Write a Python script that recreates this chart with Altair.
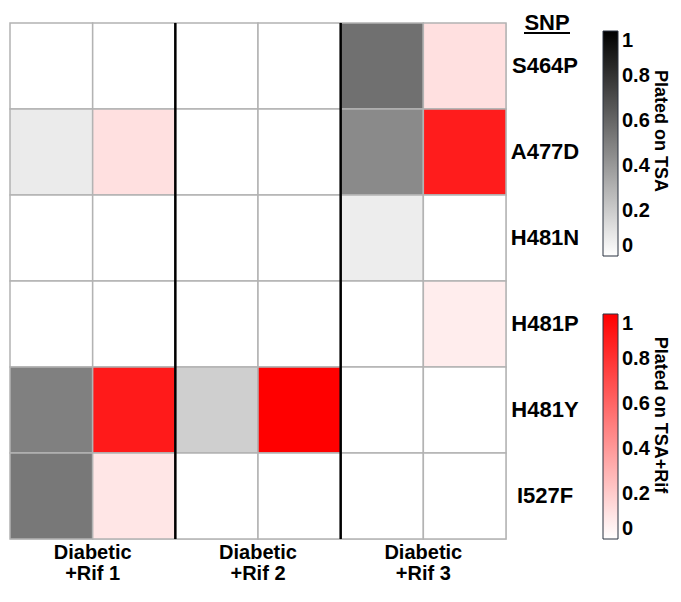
import altair as alt
import pandas as pd

FONT = "Liberation Sans"

# ---- data ----
snps = ["S464P", "A477D", "H481N", "H481P", "H481Y", "I527F"]
groups = ["Diabetic\n+Rif 1", "Diabetic\n+Rif 2", "Diabetic\n+Rif 3"]
# fraction plated on TSA (per group, per SNP in order above)
tsa_values = [
    [0.00, 0.08, 0.00, 0.00, 0.50, 0.53],
    [0.00, 0.00, 0.00, 0.00, 0.19, 0.00],
    [0.56, 0.46, 0.07, 0.00, 0.00, 0.00],
]
# fraction plated on TSA+Rif
rif_values = [
    [0.00, 0.12, 0.00, 0.00, 0.90, 0.10],
    [0.00, 0.00, 0.00, 0.00, 1.00, 0.00],
    [0.12, 0.89, 0.00, 0.07, 0.00, 0.00],
]
legend_ticks = [0, 0.2, 0.4, 0.6, 0.8, 1]
legend_titles = ["Plated on TSA", "Plated on TSA+Rif"]
header = "SNP"

rows_tsa, rows_rif = [], []
for g, (tv, rv) in enumerate(zip(tsa_values, rif_values)):
    for s, a, b in zip(snps, tv, rv):
        rows_tsa.append({"snp": s, "x0": 2 * g, "x1": 2 * g + 1, "value": a})
        rows_rif.append({"snp": s, "x0": 2 * g + 1, "x1": 2 * g + 2, "value": b})
df_tsa = pd.DataFrame(rows_tsa)
df_rif = pd.DataFrame(rows_rif)
df_groups = pd.DataFrame({"label": groups, "center": [2 * i + 1 for i in range(len(groups))]})
df_seps = pd.DataFrame({"x": [2 * i for i in range(1, len(groups))]})
df_snps = pd.DataFrame({"snp": snps})

W, H = 496, 516
TOP = 15  # padding above plot area; plot origin at page y = 8 + TOP

xscale = alt.Scale(domain=[0, 6], nice=False, zero=False)
yenc = alt.Y("snp:N", sort=snps, axis=None, scale=alt.Scale(paddingInner=0, paddingOuter=0))


def legend(y):
    return alt.Legend(
        title=None, orient="none", legendX=593, legendY=y, direction="vertical",
        gradientLength=225, gradientThickness=15, values=legend_ticks, format="~g",
        labelFontSize=20, labelFont=FONT, labelFontWeight="bold", labelColor="black",
        labelBaseline="middle", labelOffset=4, gradientStrokeColor="#2a3340",
        gradientStrokeWidth=1, padding=0,
    )


tsa = alt.Chart(df_tsa).mark_rect(stroke="#b3b3b3", strokeWidth=1.5).encode(
    x=alt.X("x0:Q", scale=xscale, axis=None), x2="x1", y=yenc,
    color=alt.Color("value:Q", scale=alt.Scale(domain=[0, 1], range=["#ffffff", "#000000"], interpolate="rgb"),
                    legend=legend(31 - 8 - TOP)),
)
rif = alt.Chart(df_rif).mark_rect(stroke="#b3b3b3", strokeWidth=1.5).encode(
    x=alt.X("x0:Q", scale=xscale, axis=None), x2="x1", y=yenc,
    color=alt.Color("value:Q", scale=alt.Scale(domain=[0, 1], range=["#ffffff", "#ff0000"], interpolate="rgb"),
                    legend=legend(314 - 8 - TOP)),
)
seps = alt.Chart(df_seps).mark_rule(color="black", strokeWidth=2.5).encode(
    x=alt.X("x:Q", scale=xscale, axis=None), y=alt.value(0), y2=alt.value(H)
)
row_labels = alt.Chart(df_snps).mark_text(
    font=FONT, fontSize=22, fontWeight="bold", align="center", baseline="middle", color="black"
).encode(y=yenc, x=alt.value(535), text="snp:N")
group_labels = alt.Chart(df_groups).mark_text(
    font=FONT, fontSize=20, fontWeight="bold", align="center", baseline="alphabetic",
    lineBreak="\n", lineHeight=21, color="black"
).encode(x=alt.X("center:Q", scale=xscale, axis=None), y=alt.value(H + 20), text="label:N")
snp_header = alt.Chart(pd.DataFrame({"t": [header]})).mark_text(
    font=FONT, fontSize=22, fontWeight="bold", align="center", baseline="middle", color="black"
).encode(x=alt.value(537), y=alt.value(22.5 - 8 - TOP), text="t:N")
snp_underline = alt.Chart(pd.DataFrame({"t": [header]})).mark_rule(color="black", strokeWidth=2).encode(
    x=alt.value(514), x2=alt.value(560), y=alt.value(33 - 8 - TOP)
)
title1 = alt.Chart(pd.DataFrame({"t": [legend_titles[0]]})).mark_text(
    font=FONT, fontSize=18, fontWeight="bold", align="center", baseline="middle", angle=90, color="black"
).encode(x=alt.value(650), y=alt.value(131 - 8 - TOP), text="t:N")
title2 = alt.Chart(pd.DataFrame({"t": [legend_titles[1]]})).mark_text(
    font=FONT, fontSize=18, fontWeight="bold", align="center", baseline="middle", angle=90, color="black"
).encode(x=alt.value(650), y=alt.value(415 - 8 - TOP), text="t:N")

chart = alt.layer(
    tsa, rif, seps, row_labels, group_labels, snp_header, snp_underline, title1, title2
).resolve_scale(color="independent").properties(
    width=W, height=H,
    autosize=alt.AutoSizeParams(type="none"),
    padding={"left": 2, "top": TOP, "right": 164, "bottom": 46},
).configure_view(strokeWidth=0).configure(background="white")

chart.save("out.html", embed_options={"renderer": "svg", "actions": False})
